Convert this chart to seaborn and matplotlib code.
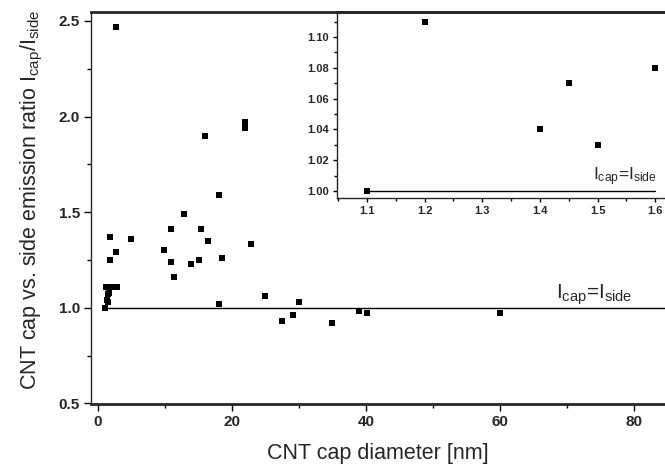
import matplotlib
matplotlib.use("Agg")
import matplotlib.pyplot as plt
from matplotlib.ticker import MultipleLocator, FormatStrFormatter
import seaborn as sns
import pandas as pd

# ---- data ----
diam_main = [1.1, 1.2, 1.4, 1.45, 1.5, 1.6, 1.9, 2.8, 1.8, 1.8, 2.7, 2.7, 4.9,
             9.9, 10.9, 10.9, 11.4, 12.8, 13.9, 15.1, 15.4, 15.9, 16.4, 18.0,
             18.0, 18.5, 22.0, 22.0, 22.9, 24.9, 27.4, 29.1, 30.0, 34.9, 38.9,
             40.1, 60.0]
ratio_main = [1.00, 1.11, 1.04, 1.07, 1.03, 1.08, 1.11, 1.11, 1.37, 1.25, 1.29,
              2.47, 1.36, 1.30, 1.41, 1.24, 1.16, 1.49, 1.23, 1.25, 1.41, 1.90,
              1.35, 1.59, 1.02, 1.26, 1.97, 1.94, 1.335, 1.063, 0.932, 0.962,
              1.03, 0.923, 0.984, 0.972, 0.972]
diam_inset = [1.1, 1.2, 1.4, 1.45, 1.5, 1.6]
ratio_inset = [1.00, 1.11, 1.04, 1.07, 1.03, 1.08]
ref_ratio = 1.0
main_line_x = [1.1, 85]
inset_line_x = [1.1, 1.6]

sns.set_theme(style="ticks")
plt.rcParams['font.family'] = ['Liberation Sans', 'DejaVu Sans']
plt.rcParams['mathtext.fontset'] = 'custom'
plt.rcParams['mathtext.rm'] = 'Liberation Sans'
plt.rcParams['mathtext.it'] = 'Liberation Sans'

fig = plt.figure(figsize=(6.65, 4.66), dpi=100)
ax_w = 1 - 91/665 + 0.01
ax = fig.add_axes([91/665, 1 - 404/466, ax_w, (404 - 12)/466])

df = pd.DataFrame({"d": diam_main, "r": ratio_main})
sns.scatterplot(data=df, x="d", y="r", ax=ax, marker="s", s=13, color="black",
                linewidth=0, legend=False)
sns.lineplot(x=main_line_x, y=[ref_ratio] * 2, ax=ax, color="black", lw=1.0)
ax.set_xlim(-1.045, 85.63)
ax.set_ylim(0.497, 2.547)
ax.xaxis.set_major_locator(MultipleLocator(20))
ax.xaxis.set_minor_locator(MultipleLocator(10))
ax.yaxis.set_major_locator(MultipleLocator(0.5))
ax.yaxis.set_minor_locator(MultipleLocator(0.25))
ax.yaxis.set_major_formatter(FormatStrFormatter('%.1f'))
ax.tick_params(which='major', direction='out', length=5, width=1, labelsize=11, color='black', pad=3)
ax.tick_params(which='minor', direction='out', length=3, width=1, color='black')
for lab in ax.get_xticklabels() + ax.get_yticklabels():
    lab.set_fontweight('bold')
ax.spines['left'].set_linewidth(1.0)
ax.spines['bottom'].set_linewidth(2.0)
ax.spines['top'].set_linewidth(2.0)
ax.spines['right'].set_visible(False)
ax.set_xlabel("CNT cap diameter [nm]", fontsize=15.5)
ax.set_ylabel(r"CNT cap vs. side emission ratio I$_{\rm cap}$/I$_{\rm side}$", fontsize=15.5)
ax.text(68.4, 1.003, r"I$_{\rm cap}$=I$_{\rm side}$", fontsize=15, ha='left', va='bottom')
ax_w_px = ax_w * 665
ax.xaxis.set_label_coords((378 - 91) / ax_w_px, -(443 - 404) / 392)
ax.yaxis.set_label_coords(-(91 - 45) / ax_w_px, 0.52)

# ---- inset ----
axi = fig.add_axes([337/665, 1 - 198/466, 1 - 337/665, (198 - 12)/466])
dfi = pd.DataFrame({"d": diam_inset, "r": ratio_inset})
sns.scatterplot(data=dfi, x="d", y="r", ax=axi, marker="s", s=13, color="black",
                linewidth=0, legend=False)
sns.lineplot(x=inset_line_x, y=[ref_ratio] * 2, ax=axi, color="black", lw=1.0)
axi.set_xlim(1.048, 1.617)
axi.set_ylim(0.99545, 1.1162)
axi.xaxis.set_major_locator(MultipleLocator(0.1))
axi.xaxis.set_minor_locator(MultipleLocator(0.05))
axi.yaxis.set_major_locator(MultipleLocator(0.02))
axi.yaxis.set_minor_locator(MultipleLocator(0.01))
axi.xaxis.set_major_formatter(FormatStrFormatter('%.1f'))
axi.yaxis.set_major_formatter(FormatStrFormatter('%.2f'))
axi.tick_params(which='major', direction='out', length=3, width=1, labelsize=8, color='black', pad=3)
axi.tick_params(which='minor', direction='out', length=2, width=1, color='black')
for lab in axi.get_xticklabels() + axi.get_yticklabels():
    lab.set_fontweight('bold')
axi.set_xlabel("")
axi.set_ylabel("")
axi.spines['left'].set_linewidth(1.0)
axi.spines['bottom'].set_linewidth(1.0)
axi.spines['top'].set_linewidth(2.0)
axi.spines['right'].set_visible(False)
axi.patch.set_alpha(0)
axi.text(1.603, 1.002, r"I$_{\rm cap}$=I$_{\rm side}$", fontsize=12.5, ha='right', va='bottom')

fig.savefig("out.png", dpi=100)
